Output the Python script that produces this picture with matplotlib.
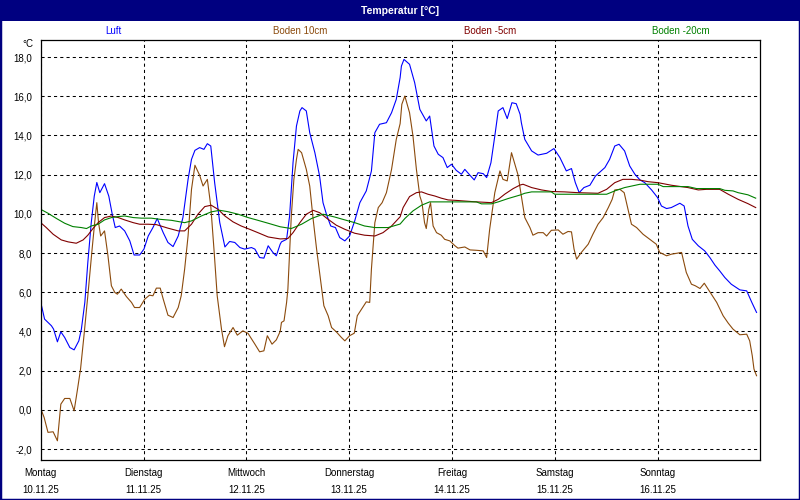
import matplotlib
matplotlib.use("Agg")
import matplotlib.pyplot as plt
from matplotlib.patches import Rectangle

plt.rcParams['font.family'] = ['Liberation Sans', 'DejaVu Sans']

# hours since Montag 10.11.25 00:00
luft_h = [0, 0.9, 2.5, 3, 3.9, 4.7, 5.6, 6.8, 7.8, 8.9, 9.5, 10.3, 11, 11.8, 12.5, 13.1, 13.8, 14.9,
          15.9, 16.7, 17.4, 18.4, 19.6, 20.8, 21.8, 23.1, 24.1, 25.1, 26.2, 27.2, 28.6, 29.7, 30.9,
          32.1, 33.2, 34.4, 35.2, 36, 37.1, 38.1, 38.9, 39.7, 40.6, 41.8, 43, 44.1, 45.3, 46.5, 47.6,
          49.2, 50, 51.1, 52.1, 53.1, 54.2, 55, 55.9, 56.2, 57.4, 58.1, 58.9, 59.7, 60.5, 61, 62,
          62.8, 64, 65.1, 65.9, 66.7, 67.7, 68.8, 69.8, 71, 72.1, 73.3, 74.5, 76, 77.2, 78, 79.1,
          80.7, 81.9, 83, 83.9, 84.2, 84.8, 86.1, 87.3, 88.5, 90, 90.8, 91.8, 92.8, 93.9, 94.9,
          95.9, 97, 98.2, 99, 100.2, 101.2, 102.1, 103.3, 104.1, 105.1, 106, 106.8, 107.9, 108.9,
          110, 111, 111.9, 112.2, 113, 114.6, 116.1, 118.1, 119.8, 121.2, 122.7, 123.9, 124.8,
          125.7, 126.8, 128.2, 129.5, 131.7, 132.8, 134, 135, 136.3, 137.5, 138.7, 139.9, 141,
          142.6, 144, 144.9, 146.1, 147.2, 149.2, 150.2, 151.1, 152.1, 153.5, 155, 156.2, 157.4,
          158.5, 159.7, 161.2, 163.2, 164.8, 166, 167.1]
luft_t = [5.5, 4.63, 4.29, 4.12, 3.47, 3.98, 3.69, 3.18, 3.06, 3.52, 4.12, 5.48, 7.52, 9.55, 10.9,
          11.6, 11.08, 11.54, 10.9, 9.98, 9.3, 9.38, 9.13, 8.62, 7.9, 7.9, 8.2, 8.87, 9.3, 9.76,
          9.04, 8.54, 8.33, 8.87, 9.81, 11.76, 12.78, 13.24, 13.38, 13.29, 13.58, 13.46, 11.6, 9.55,
          8.31, 8.59, 8.54, 8.28, 8.2, 8.28, 8.2, 7.77, 7.74, 8.37, 8.03, 7.86, 8.45, 8.57, 8.7,
          9.89, 12.61, 14.48, 15.25, 15.42, 15.25, 14.14, 13.12, 11.93, 10.57, 9.98, 9.38, 9.3,
          8.79, 8.62, 8.87, 9.64, 10.57, 11.17, 12.19, 14.14, 14.57, 14.65, 15.16, 15.84, 16.95,
          17.54, 17.88, 17.63, 16.69, 15.33, 14.74, 14.99, 13.46, 13.04, 12.87, 12.36, 12.53,
          12.22, 12.02, 12.27, 11.97, 11.73, 12.1, 12.05, 11.85, 12.61, 13.97, 15.25, 15.42,
          14.86, 15.67, 15.62, 15.08, 14.65, 13.8, 13.21, 13.0, 13.09, 13.33, 12.87, 12.19, 12.31,
          11.59, 11.08, 11.34, 11.46, 11.93, 12.36, 12.78, 13.46, 13.55, 13.21, 12.44, 12.02,
          11.73, 11.59, 11.22, 10.83, 10.4, 10.27, 10.32, 10.54, 10.4, 9.38, 8.7, 8.37, 8.11,
          7.77, 7.38, 7.09, 6.75, 6.41, 6.12, 6.07, 5.48, 4.97]

b10_h = [0, 0.8, 1.7, 2.9, 3.9, 4.7, 5.6, 6.8, 7.8, 8.6, 9.3, 10.1, 11, 12, 12.6, 13.1, 13.5, 14,
         14.9, 15.7, 16.5, 17.3, 17.9, 18.8, 20, 21.2, 21.9, 23.1, 24.3, 25.4, 26.2, 27, 27.9,
         28.6, 29.7, 30.9, 32.1, 32.8, 33.6, 34.4, 35.2, 36, 37.1, 37.9, 38.9, 39.7, 40.5, 41.2,
         42.2, 42.9, 43.7, 44.9, 45.9, 47.2, 48.4, 50, 51.1, 52.1, 52.9, 54, 55, 55.9, 56.2, 56.8,
         57.4, 57.7, 58.1, 58.5, 59.1, 59.7, 60.1, 60.9, 62, 62.8, 63.6, 64.4, 65.1, 66.1, 67.1,
         67.9, 69, 70.2, 71, 72.1, 73.2, 73.9, 74.9, 76, 76.8, 77.2, 78, 78.8, 79.7, 80.7, 81.9,
         83, 83.9, 84.3, 85, 86.1, 86.9, 87.7, 88.5, 89, 89.6, 90, 90.6, 91, 91.6, 92.4, 93.5,
         94.3, 95.5, 96.7, 97.4, 99, 100.2, 101.7, 103.3, 104.1, 104.8, 106, 107.2, 107.9, 108.9,
         109.9, 110.7, 111.4, 112.2, 113, 114.2, 114.9, 116.1, 117.3, 118.1, 119.2, 120.8, 121.9,
         123.1, 123.9, 124.5, 125.1, 126.2, 127.8, 128.9, 130.1, 131.3, 132.5, 133.4, 134, 135.2,
         136.2, 137.1, 137.9, 139.1, 140.6, 142.2, 143.7, 144.5, 146.1, 147.2, 148.6, 149.6,
         150.7, 151.9, 152.8, 153.9, 154.9, 156.2, 157.8, 159.3, 160.5, 161.6, 163.2, 164.8,
         165.5, 166.1, 166.5, 167.1]
b10_t = [0.07, -0.39, -1.15, -1.12, -1.58, 0.29, 0.58, 0.58, -0.05, 1.06, 2.08, 3.78, 5.82, 8.2,
         9.55, 10.57, 9.55, 8.87, 9.13, 7.86, 6.33, 5.99, 5.9, 6.16, 5.78, 5.48, 5.22, 5.22, 5.65,
         5.85, 5.82, 6.21, 6.21, 5.65, 4.83, 4.71, 5.22, 5.82, 7.18, 8.87, 11.25, 12.48, 11.97,
         11.42, 11.76, 10.4, 8.03, 5.82, 4.12, 3.22, 3.78, 4.2, 3.81, 4.03, 3.9, 3.35, 2.96, 3.01,
         3.78, 3.35, 3.57, 4.0, 4.46, 4.54, 5.48, 6.16, 8.03, 9.89, 11.76, 12.78, 13.29, 13.12,
         12.27, 11.42, 9.72, 8.2, 7.01, 5.31, 4.8, 4.2, 3.98, 3.69, 3.52, 3.78, 3.91, 4.8, 5.14,
         5.51, 5.48, 7.18, 9.55, 10.32, 10.57, 11.08, 12.27, 13.8, 14.6, 15.59, 16.01, 15.16,
         13.97, 12.27, 10.91, 10.57, 9.55, 9.25, 10.23, 10.57, 9.38, 9.04, 8.91, 8.7, 8.62, 8.37,
         8.25, 8.31, 8.16, 8.14, 8.11, 7.77, 9.21, 11.08, 12.19, 11.76, 11.68, 13.12, 12.53, 12.0,
         10.91, 9.81, 9.3, 8.91, 9.04, 9.04, 8.87, 9.16, 9.18, 8.96, 9.1, 9.08, 8.2, 7.69, 8.03,
         8.45, 8.96, 9.47, 9.81, 10.32, 10.74, 11.22, 11.25, 11.08, 10.23, 9.47, 9.3, 8.96, 8.7,
         8.45, 8.03, 7.86, 7.94, 7.99, 8.03, 7.01, 6.41, 6.33, 6.19, 6.46, 6.02, 5.48, 4.8, 4.42,
         4.12, 3.83, 3.86, 3.52, 2.76, 2.08, 1.74]

b5_h = [0, 1.3, 2.9, 4.8, 6.4, 8.3, 9.9, 11, 12.2, 13.4, 14.9, 16.5, 18.1, 19.6, 21.6, 23.1, 25.1,
        27, 29.7, 32.1, 33.6, 35.2, 36.7, 38.3, 39.8, 41.4, 43, 44.9, 46.8, 48.8, 50.7, 53.1,
        55.9, 57.7, 58.9, 60.5, 62, 63.6, 65.1, 67.1, 69, 71, 73.3, 75.6, 78, 79.9, 81.9, 83.9,
        84.6, 86.1, 87.7, 88.9, 90.4, 92, 93.5, 95.1, 97.4, 101, 105.2, 106.8, 108.3, 110.3,
        111.9, 112.6, 114.6, 116.9, 119.2, 122.3, 125.4, 130.1, 132.1, 134, 135.9, 137.9, 139.9,
        141.8, 144.1, 147.2, 151.1, 153.5, 155.4, 158.5, 160.5, 162.8, 165.1, 166.9]
b5_t = [9.55, 9.3, 8.96, 8.67, 8.57, 8.5, 8.67, 8.91, 9.25, 9.55, 9.81, 9.89, 9.81, 9.69, 9.55,
        9.47, 9.47, 9.45, 9.27, 9.13, 9.13, 9.47, 9.98, 10.37, 10.44, 10.23, 9.89, 9.59, 9.38,
        9.21, 9.04, 8.82, 8.72, 8.74, 9.04, 9.55, 9.98, 10.18, 10.06, 9.72, 9.42, 9.21, 9.01,
        8.91, 8.87, 9.04, 9.38, 9.85, 10.32, 10.88, 11.08, 11.12, 11.0, 10.91, 10.8, 10.71,
        10.68, 10.62, 10.57, 10.74, 11.0, 11.29, 11.47, 11.51, 11.34, 11.22, 11.14, 11.12,
        11.08, 11.05, 11.25, 11.59, 11.76, 11.76, 11.72, 11.64, 11.59, 11.46, 11.34, 11.22,
        11.25, 11.25, 11.0, 10.74, 10.52, 10.32]

b20_h = [0, 1.7, 3.7, 5.6, 7.5, 9.5, 10.7, 11.8, 13.4, 14.9, 16.5, 18.1, 19.6, 21.6, 23.5, 25.8,
         27.9, 30.5, 33.6, 35.2, 37.5, 39.8, 41.8, 43.7, 46.1, 48.4, 50.7, 53.1, 55.9, 58.5,
         60.9, 63.2, 65.9, 68.6, 71, 73.3, 75.6, 78, 81.1, 83.9, 85, 86.9, 88.9, 90.8, 94.3, 99,
         101.7, 102.9, 105.2, 106.8, 109.1, 111.9, 113, 114.6, 119.2, 120, 125.4, 132.1, 134,
         136.3, 139.9, 144.1, 145.3, 151.1, 153.1, 158.5, 159.7, 161.6, 162.8, 165.1, 166.9]
b20_t = [10.23, 10.03, 9.76, 9.52, 9.35, 9.3, 9.25, 9.38, 9.47, 9.69, 9.81, 9.86, 9.89, 9.81,
         9.78, 9.78, 9.72, 9.67, 9.55, 9.64, 9.89, 10.1, 10.18, 10.11, 9.98, 9.81, 9.67, 9.52,
         9.34, 9.25, 9.47, 9.76, 9.98, 9.84, 9.69, 9.55, 9.38, 9.3, 9.3, 9.48, 9.76, 10.15, 10.44,
         10.61, 10.61, 10.61, 10.61, 10.51, 10.51, 10.61, 10.78, 10.96, 11.05, 11.12, 11.12,
         11.0, 11.0, 11.0, 11.17, 11.34, 11.51, 11.51, 11.39, 11.39, 11.29, 11.29, 11.2, 11.17,
         11.08, 10.97, 10.8]

series = ['Luft', 'Boden 10cm', 'Boden -5cm', 'Boden -20cm']
colors = ['#0000ff', '#8b4a0c', '#800000', '#008000']

days = ['Montag', 'Dienstag', 'Mittwoch', 'Donnerstag', 'Freitag', 'Samstag', 'Sonntag']
dates = ['10.11.25', '11.11.25', '12.11.25', '13.11.25', '14.11.25', '15.11.25', '16.11.25']
yticks = [-2, 0, 2, 4, 6, 8, 10, 12, 14, 16, 18]

fig = plt.figure(figsize=(8, 5), dpi=100)
ax = fig.add_axes([40.7 / 800, 40 / 500, 719.7 / 800, 420 / 500])

ax.plot(luft_h, luft_t, color=colors[0], lw=0.8)
ax.plot(b10_h, b10_t, color=colors[1], lw=0.8)
ax.plot(b5_h, b5_t, color=colors[2], lw=0.8)
ax.plot(b20_h, b20_t, color=colors[3], lw=0.8)

ax.set_xlim(0, 168)
ax.set_ylim(-2.56, 18.87)
ax.set_xticks([24 * i for i in range(7)])
ax.set_xticklabels([d + '\n' + t for d, t in zip(days, dates)], linespacing=1.8)
ax.set_yticks(yticks)
ax.set_yticklabels([('%.1f' % v).replace('.', ',') for v in yticks])
ax.tick_params(length=0, labelsize=7, colors='black')
ax.tick_params(axis='x', pad=6)
ax.tick_params(axis='y', pad=6)
ax.grid(True, color='black', lw=0.75, linestyle=(0, (3, 3)))
for s in ax.spines.values():
    s.set_linewidth(0.9)

# header and frame
fig.patches.append(Rectangle((0, 1 - 20.5 / 500), 1, 20.5 / 500, transform=fig.transFigure,
                             facecolor='#000080', edgecolor='none'))
fig.patches.append(Rectangle((0, 0), 1, 1, transform=fig.transFigure, fill=False,
                             edgecolor='#000080', lw=2.5))
fig.text(0.5, 1 - 10.5 / 500, 'Temperatur [°C]', color='white', fontsize=7.5,
         fontweight='bold', ha='center', va='center')
for name, c, px in zip(series, colors, [113, 300, 490, 681]):
    fig.text(px / 800, 1 - 31 / 500, name, color=c, fontsize=7, ha='center', va='center')
fig.text(33 / 800, 1 - 44 / 500, '°C', fontsize=7, ha='right', va='center')

fig.savefig('out.png', dpi=100, facecolor='white')
